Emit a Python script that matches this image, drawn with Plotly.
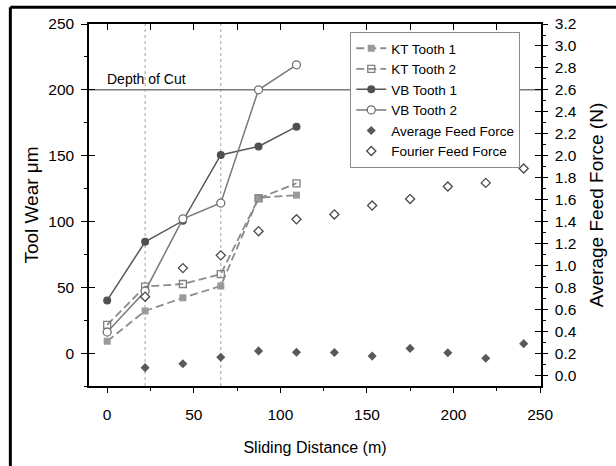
import plotly.graph_objects as go

# ---------------- data ----------------
sliding_distance = [0, 21.9, 43.7, 65.6, 87.4, 109.3, 131.2, 153.0, 174.9, 196.7, 218.6, 240.5]
wear_x = sliding_distance[:6]
kt_tooth1 = [9, 32, 42, 51, 118, 120]
kt_tooth2 = [21.5, 50.5, 52.5, 60, 117.5, 129]
vb_tooth1 = [40, 84.5, 100.5, 150.5, 157, 172]
vb_tooth2 = [16, 47, 102, 114, 200, 219]
force_x = sliding_distance[1:]
avg_feed_force = [0.075, 0.11, 0.17, 0.227, 0.215, 0.212, 0.18, 0.25, 0.21, 0.16, 0.293]
fourier_feed_force = [0.72, 0.98, 1.096, 1.316, 1.424, 1.468, 1.549, 1.609, 1.722, 1.755, 1.886]
depth_of_cut = 200
marker_lines_x = [21.9, 65.6]

SANS = "Liberation Sans, Arial, sans-serif"

fig = go.Figure()

fig.add_trace(go.Scatter(x=wear_x, y=kt_tooth1, name="KT Tooth 1", mode="lines+markers",
                         line=dict(color="#8c8c8c", width=1.8, dash="8px,4px"),
                         marker=dict(symbol="square", size=7, color="#9a9a9a")))
fig.add_trace(go.Scatter(x=wear_x, y=kt_tooth2, name="KT Tooth 2", mode="lines+markers",
                         line=dict(color="#8c8c8c", width=1.8, dash="8px,4px"),
                         marker=dict(symbol="square-open", size=7, color="#808080",
                                     line=dict(width=1.3))))
fig.add_trace(go.Scatter(x=wear_x, y=vb_tooth1, name="VB Tooth 1", mode="lines+markers",
                         line=dict(color="#575757", width=1.5),
                         marker=dict(symbol="circle", size=8, color="#505050")))
fig.add_trace(go.Scatter(x=wear_x, y=vb_tooth2, name="VB Tooth 2", mode="lines+markers",
                         line=dict(color="#7a7a7a", width=1.5),
                         marker=dict(symbol="circle", size=8, color="white",
                                     line=dict(color="#707070", width=1.3))))
fig.add_trace(go.Scatter(x=force_x, y=avg_feed_force, name="Average Feed Force", mode="markers",
                         yaxis="y2",
                         marker=dict(symbol="diamond", size=7, color="#595959")))
fig.add_trace(go.Scatter(x=force_x, y=fourier_feed_force, name="Fourier Feed Force", mode="markers",
                         yaxis="y2",
                         marker=dict(symbol="diamond", size=7, color="white",
                                     line=dict(color="#4a4a4a", width=1.3))))
# empty carriers for decorative overlay axes
fig.add_trace(go.Scatter(x=[], y=[], xaxis="x2", yaxis="y3", showlegend=False, hoverinfo="skip"))
fig.add_trace(go.Scatter(x=[], y=[], xaxis="x", yaxis="y4", showlegend=False, hoverinfo="skip"))

xr = [-10.5, 250.5]
yr = [-25, 250]
y2r = [-0.092, 3.2]

shapes = []
for xv in marker_lines_x:
    shapes.append(dict(type="line", xref="x", yref="y domain", x0=xv, x1=xv, y0=0, y1=1,
                       line=dict(color="#a0a0a0", width=1, dash="dot"), layer="below"))
shapes.append(dict(type="line", xref="x domain", yref="y", x0=0, x1=1, y0=depth_of_cut, y1=depth_of_cut,
                   line=dict(color="#7a7a7a", width=1.5), layer="below"))
# outer frame (top and left)
shapes.append(dict(type="line", xref="paper", yref="paper", x0=-0.174, x1=1.3, y0=1.0462, y1=1.0462,
                   line=dict(color="black", width=3)))
shapes.append(dict(type="line", xref="paper", yref="paper", x0=-0.174, x1=-0.174, y0=-0.3, y1=1.0462,
                   line=dict(color="black", width=3)))

fig.update_layout(
    width=616, height=466,
    margin=dict(l=89, r=69.5, t=24, b=74, pad=0),
    paper_bgcolor="white", plot_bgcolor="white",
    font=dict(family=SANS, color="black"),
    showlegend=True,
    legend=dict(x=0.578, y=0.978, xanchor="left", yanchor="top",
                bgcolor="white", bordercolor="#8a8a8a", borderwidth=1,
                font=dict(family=SANS, size=13.5, color="black"),
                tracegroupgap=0),
    xaxis=dict(range=xr, showgrid=False, zeroline=False, showline=True, linecolor="black", linewidth=1.5,
               ticks="outside", ticklen=5, tickwidth=1.2, tickcolor="black", tick0=0, dtick=50,
               minor=dict(ticks="outside", ticklen=3, dtick=25, tick0=0, tickcolor="black", tickwidth=1),
               tickfont=dict(family=SANS, size=15.5), ticklabelstandoff=9,
               title=dict(text="Sliding Distance (m)", font=dict(family=SANS, size=16), standoff=19)),
    xaxis2=dict(range=xr, overlaying="x", side="top", anchor="y3", showgrid=False, zeroline=False,
                showline=True, linecolor="black", linewidth=1.5,
                ticks="inside", ticklen=6, tickwidth=1.2, tickcolor="black", tick0=0, dtick=25,
                showticklabels=False),
    yaxis=dict(range=yr, showgrid=False, zeroline=False, showline=True, linecolor="black", linewidth=1.5,
               ticks="outside", ticklen=6, tickwidth=1.2, tickcolor="black", tick0=0, dtick=50,
               minor=dict(ticks="outside", ticklen=3, dtick=25, tick0=0, tickcolor="black", tickwidth=1),
               tickfont=dict(family=SANS, size=15.5), ticklabelstandoff=4,
               title=dict(text="Tool Wear μm", font=dict(family=SANS, size=19), standoff=5)),
    yaxis2=dict(range=y2r, overlaying="y", side="right", anchor="x", showgrid=False, zeroline=False,
                showline=True, linecolor="black", linewidth=1.5,
                ticks="outside", ticklen=5, tickwidth=1.2, tickcolor="black", tick0=0, dtick=0.2,
                tickformat=".1f",
                minor=dict(ticks="outside", ticklen=3, dtick=0.1, tick0=0, tickcolor="black", tickwidth=1),
                tickfont=dict(family=SANS, size=15.5), ticklabelstandoff=4,
                title=dict(text="Average Feed Force (N)", font=dict(family=SANS, size=19), standoff=14)),
    yaxis3=dict(range=yr, overlaying="y", side="left", anchor="x2", showgrid=False, zeroline=False,
                showline=False, ticks="inside", ticklen=6, tickwidth=1.2, tickcolor="black",
                tick0=0, dtick=50, showticklabels=False),
    yaxis4=dict(range=y2r, overlaying="y", side="right", anchor="x", showgrid=False, zeroline=False,
                showline=False, ticks="inside", ticklen=6, tickwidth=1.2, tickcolor="black",
                tick0=0, dtick=0.2, showticklabels=False),
    shapes=shapes,
    annotations=[dict(x=-1, y=depth_of_cut + 8, xref="x", yref="y", text="Depth of Cut",
                      showarrow=False, xanchor="left", yanchor="middle",
                      font=dict(family=SANS, size=14, color="black"))],
)

fig.write_html("out.html")
